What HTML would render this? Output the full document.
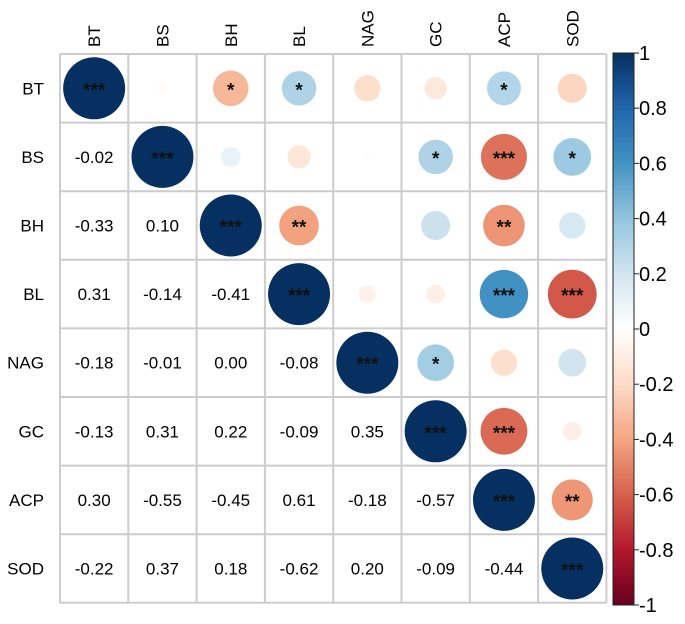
<!DOCTYPE html>
<html><head><meta charset="utf-8"><style>
html,body{margin:0;padding:0;background:#fff;}
svg{display:block;font-family:"Liberation Sans",Arial,sans-serif;}
</style></head><body>
<svg id="c" width="685" height="624"></svg>
<script>
const labels=["BT","BS","BH","BL","NAG","GC","ACP","SOD"];
const corr=[
[1,-0.02,-0.33,0.31,-0.18,-0.13,0.30,-0.22],
[-0.02,1,0.10,-0.14,-0.01,0.31,-0.55,0.37],
[-0.33,0.10,1,-0.41,0.00,0.22,-0.45,0.18],
[0.31,-0.14,-0.41,1,-0.08,-0.09,0.61,-0.62],
[-0.18,-0.01,0.00,-0.08,1,0.35,-0.18,0.20],
[-0.13,0.31,0.22,-0.09,0.35,1,-0.57,-0.09],
[0.30,-0.55,-0.45,0.61,-0.18,-0.57,1,-0.44],
[-0.22,0.37,0.18,-0.62,0.20,-0.09,-0.44,1]];
const stars=[
["***","","*","*","","","*",""],
["","***","","","","*","***","*"],
["","","***","**","","","**",""],
["","","","***","","","***","***"],
["","","","","***","*","",""],
["","","","","","***","***",""],
["","","","","","","***","**"],
["","","","","","","","***"]];
const cbTicks=[1,0.8,0.6,0.4,0.2,0,-0.2,-0.4,-0.6,-0.8,-1];
const cbLabels=["1","0.8","0.6","0.4","0.2","0","-0.2","-0.4","-0.6","-0.8","-1"];
const pal=["#67001F","#B2182B","#D6604D","#F4A582","#FDDBC7","#FFFFFF","#D1E5F0","#92C5DE","#4393C3","#2166AC","#053061"];
function col(v){let t=(v+1)/2*10;let i=Math.min(9,Math.floor(t));let f=t-i;
 const a=pal[i],b=pal[i+1];const p=(h,k)=>parseInt(h.substr(1+2*k,2),16);
 let r=[0,1,2].map(k=>Math.round(p(a,k)+(p(b,k)-p(a,k))*f));return `rgb(${r.join(',')})`;}
const NS="http://www.w3.org/2000/svg";const svg=document.getElementById('c');
function mk(t,at,par){const e=document.createElementNS(NS,t);for(const k in at)e.setAttribute(k,at[k]);(par||svg).appendChild(e);return e;}
const X0=60,Y0=54,CW=68.3,CH=68.6,N=labels.length,R=31;
const cx=j=>X0+CW*(j+0.5), cy=i=>Y0+CH*(i+0.5);
for(let i=0;i<N;i++)for(let j=0;j<N;j++){
 const v=corr[i][j];
 if(j>=i){
  const c=mk('circle',{cx:cx(j),cy:cy(i),r:Math.sqrt(Math.abs(v))*R,fill:col(v)});
  
  
  if(stars[i][j]){const s=mk('text',{x:cx(j),y:cy(i)+8,'text-anchor':'middle','font-size':19,'font-weight':'bold',fill:'#111'});s.textContent=stars[i][j];
   
   }
 } else {
  const t=mk('text',{x:cx(j),y:cy(i)+6,'text-anchor':'middle','font-size':17,fill:'#000'});t.textContent=v.toFixed(2);
  
  
 }
}
for(let k=0;k<=N;k++){
 mk('line',{x1:X0+CW*k,x2:X0+CW*k,y1:Y0,y2:Y0+CH*N,stroke:'#ccc','stroke-width':2});
 mk('line',{x1:X0,x2:X0+CW*N,y1:Y0+CH*k,y2:Y0+CH*k,stroke:'#ccc','stroke-width':2});
}
labels.forEach((l,i)=>{
 const r=mk('text',{x:44,y:cy(i)+6,'text-anchor':'end','font-size':17});r.textContent=l;
 
 
 const c=mk('text',{x:0,y:0,'text-anchor':'start','font-size':17,transform:`translate(${cx(i)+6},${47}) rotate(-90)`});c.textContent=l;
 
 
});
const BX=613,BW=21,BT=53,BB=605;
const by=v=>BT+(1-v)/2*(BB-BT);
const defs=mk('defs',{});const g=mk('linearGradient',{id:'g',x1:0,y1:1,x2:0,y2:0},defs);
pal.forEach((p,i)=>mk('stop',{offset:i/10,'stop-color':p},g));
const bar=mk('rect',{x:BX,y:BT,width:BW,height:BB-BT,fill:'url(#g)',stroke:'#222','stroke-width':1});


cbTicks.forEach((v,i)=>{
 mk('line',{x1:BX+BW,x2:BX+BW+5,y1:by(v),y2:by(v),stroke:'#222'});
 const t=mk('text',{x:BX+BW+5,y:by(v)+7,'font-size':20});t.textContent=cbLabels[i];
 
 
});
</script>
</body></html>
